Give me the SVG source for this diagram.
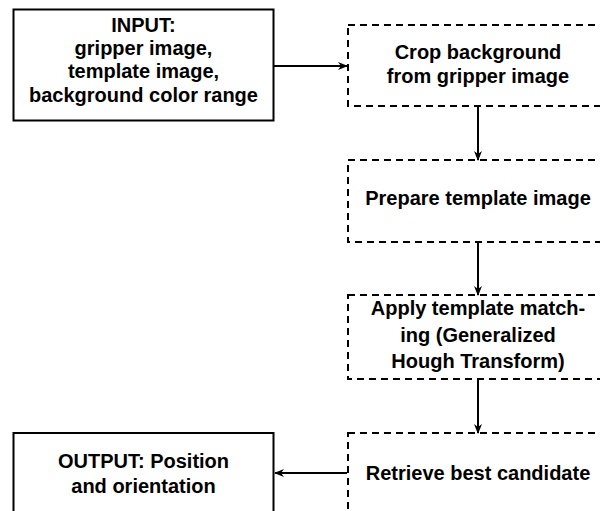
<svg xmlns="http://www.w3.org/2000/svg" width="600" height="511" viewBox="0 0 600 511">
  <defs>
    <marker id="arrow" viewBox="0 0 10 10" refX="9" refY="5" markerWidth="10" markerHeight="10" markerUnits="userSpaceOnUse" orient="auto">
      <path d="M0,1 L10,5 L0,9 L3,5 Z" fill="#000"/>
    </marker>
    <style>
      .solid { fill: #fff; stroke: #000; stroke-width: 2; }
      .dashed { fill: #fff; stroke: #000; stroke-width: 2; stroke-dasharray: 7 5; }
      .label { font-family: "Liberation Sans", Arial, sans-serif; font-weight: bold; font-size: 20px; fill: #000; text-anchor: middle; }
      .edge { stroke: #000; stroke-width: 2; fill: none; marker-end: url(#arrow); }
    </style>
  </defs>
  <rect width="600" height="511" fill="#fff"/>

  <g id="input">
    <rect class="solid" x="13.5" y="9.5" width="260" height="111"/>
    <text class="label" x="143.5" y="32">INPUT:</text>
    <text class="label" x="143.5" y="55">gripper image,</text>
    <text class="label" x="143.5" y="78">template image,</text>
    <text class="label" x="143.5" y="102">background color range</text>
  </g>

  <g id="crop">
    <rect class="dashed" x="348" y="25" width="260" height="81"/>
    <text class="label" x="478" y="59">Crop background</text>
    <text class="label" x="478" y="83">from gripper image</text>
  </g>

  <g id="prepare">
    <rect class="dashed" x="348" y="160" width="260" height="82"/>
    <text class="label" x="478" y="205">Prepare template image</text>
  </g>

  <g id="match">
    <rect class="dashed" x="348" y="295" width="260" height="84"/>
    <text class="label" x="478" y="315">Apply template match-</text>
    <text class="label" x="478" y="342">ing (Generalized</text>
    <text class="label" x="478" y="368">Hough Transform)</text>
  </g>

  <g id="retrieve">
    <rect class="dashed" x="348" y="433" width="260" height="90"/>
    <text class="label" x="478" y="480">Retrieve best candidate</text>
  </g>

  <g id="output">
    <rect class="solid" x="13.5" y="433" width="260" height="90"/>
    <text class="label" x="143.5" y="468">OUTPUT: Position</text>
    <text class="label" x="143.5" y="493">and orientation</text>
  </g>

  <g id="connectors">
    <line class="edge" x1="274" y1="66" x2="347" y2="66"/>
    <line class="edge" x1="478" y1="106" x2="478" y2="160"/>
    <line class="edge" x1="478" y1="242" x2="478" y2="295"/>
    <line class="edge" x1="478" y1="379" x2="478" y2="433"/>
    <line class="edge" x1="347" y1="473" x2="275" y2="473"/>
  </g>
</svg>
